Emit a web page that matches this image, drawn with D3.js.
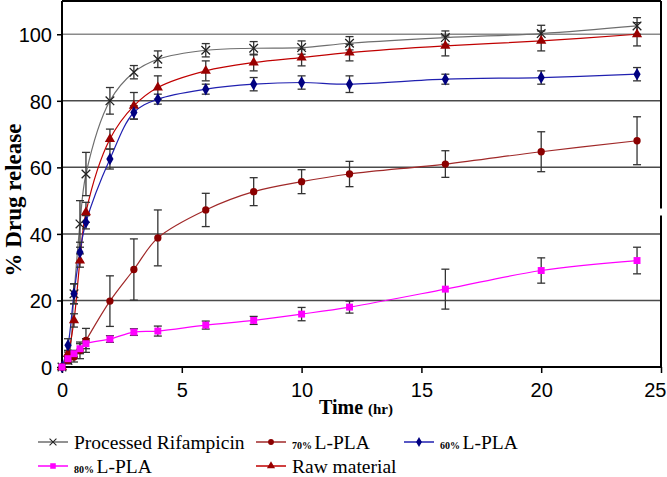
<!DOCTYPE html>
<html>
<head>
<meta charset="utf-8">
<script src="https://cdn.jsdelivr.net/npm/d3@7"></script>
<style>
  html, body { margin: 0; padding: 0; background: #fff; }
  svg { display: block; }
  .tick text { font-family: "Liberation Sans", Arial, sans-serif; font-size: 20px; fill: #000; }
  .lg-text, .lg-text tspan { font-family: "Liberation Serif", "DejaVu Serif", serif; }
</style>
</head>
<body>
<div id="chart"></div>
<script>
// sampling times (hr)
const times = [0, 0.25, 0.5, 0.75, 1, 2, 3, 4, 6, 8, 10, 12, 16, 20, 24];

// % drug release per formulation, with +/- error
const processed    = [0, 2, 22, 43, 58, 80, 88.6, 92.5, 95.2, 95.8, 96, 97.3, 99, 100.2, 102.5];
const processedErr = [0, 1, 3, 7, 6.5, 4, 2, 2.5, 2, 2, 2, 2, 2, 2.5, 2.5];
const pla70        = [0, 2, 3, 5, 8, 19.8, 29.3, 38.8, 47.2, 52.7, 55.7, 58, 61, 64.7, 68];
const pla70Err     = [0, 1, 1.5, 2.5, 3.6, 7.6, 9.2, 8.4, 5, 4.2, 3.6, 3.8, 4, 6, 7.2];
const pla60        = [0, 6.5, 22, 34.5, 43.5, 62.5, 76.5, 80.5, 83.5, 85, 85.5, 85, 86.5, 87, 88];
const pla60Err     = [0, 2, 3, 3, 2, 3, 2, 1.5, 1.5, 2, 2, 2.5, 1.5, 2, 2];
const pla80        = [0, 2.5, 4, 5.5, 7, 8.4, 10.5, 10.8, 12.6, 14, 15.9, 18, 23.4, 29, 32];
const pla80Err     = [0, 1, 1, 1.5, 1.5, 1, 1, 1.5, 1.2, 1.2, 2, 1.8, 6, 3.8, 4];
const rawMaterial  = [0, 4, 14, 32, 46.5, 68.5, 78.5, 84, 89, 91.5, 93, 94.5, 96.5, 98, 100];
const rawErr       = [0, 1, 2, 2, 3, 3, 4, 3.5, 3, 2.5, 2.5, 2.5, 3, 3, 3.5];

const xTicks = [0, 5, 10, 15, 20, 25];
const yTicks = [0, 20, 40, 60, 80, 100];

const SERIF = '"Liberation Serif", "DejaVu Serif", serif';

const series = [
  { name: "Processed Rifampicin", values: processed, err: processedErr, line: "#6e6e6e", fill: "#222", shape: "cross" },
  { name: "Raw material", values: rawMaterial, err: rawErr, line: "#c00000", fill: "#990000", shape: "triangle" },
  { name: "60% L-PLA", values: pla60, err: pla60Err, line: "#2020b0", fill: "#000080", shape: "diamond" },
  { name: "70% L-PLA", values: pla70, err: pla70Err, line: "#a02828", fill: "#8b0000", shape: "circle" },
  { name: "80% L-PLA", values: pla80, err: pla80Err, line: "#ff00ff", fill: "#ff00ff", shape: "square" }
];

const W = 667, H = 477;
const margin = { top: 1, right: 6, bottom: 110, left: 62 };
const iw = W - margin.left - margin.right;
const ih = H - margin.top - margin.bottom;

const svg = d3.select('#chart').append('svg')
  .attr('width', W).attr('height', H);

const g = svg.append('g').attr('transform', `translate(${margin.left},${margin.top})`);

const x = d3.scaleLinear().domain([0, 25]).range([0, iw]);
const y = d3.scaleLinear().domain([0, 110]).range([ih, 0]);

// horizontal grid lines
g.selectAll('.grid').data(yTicks.filter(v => v > 0)).enter()
  .append('line')
  .attr('x1', 0).attr('x2', iw)
  .attr('y1', d => y(d)).attr('y2', d => y(d))
  .attr('stroke', d => d === 100 ? '#8a8a8a' : '#4a4a4a')
  .attr('stroke-width', 1.5);

// axes
const xAxis = g.append('g').attr('transform', `translate(0,${ih})`)
  .call(d3.axisBottom(x).tickValues(xTicks).tickSize(6).tickPadding(10));
const yAxis = g.append('g')
  .call(d3.axisLeft(y).tickValues(yTicks).tickSize(5).tickPadding(5));
[xAxis, yAxis].forEach(a => {
  a.select('.domain').remove();
  a.selectAll('.tick line').attr('stroke', '#000').attr('stroke-width', 1.5);
});
yAxis.selectAll('.tick text').attr('dy', '0.36em');
// last label sits on the page edge, pull it in a little
xAxis.selectAll('.tick text').filter(d => d === 25).attr('text-anchor', 'end').attr('x', 5);

// frame (right side has a small break like the original)
const frame = g.append('g').attr('stroke', '#000').attr('stroke-width', 2).attr('fill', 'none');
frame.append('line').attr('x1', 0).attr('x2', 0).attr('y1', 0).attr('y2', ih);
frame.append('line').attr('x1', 0).attr('x2', iw).attr('y1', ih).attr('y2', ih);
frame.append('line').attr('x1', 0).attr('x2', iw).attr('y1', 0).attr('y2', 0);
frame.append('line').attr('x1', iw).attr('x2', iw).attr('y1', 0).attr('y2', y(47.6));
frame.append('line').attr('x1', iw).attr('x2', iw).attr('y1', y(45.5)).attr('y2', ih);

const line = d3.line()
  .x(d => x(d.t)).y(d => y(d.v))
  .curve(d3.curveCatmullRom.alpha(0.5));

function symbolPath(shape, size) {
  const types = {
    cross: d3.symbolX, triangle: d3.symbolTriangle, diamond: d3.symbolDiamond,
    circle: d3.symbolCircle, square: d3.symbolSquare
  };
  return d3.symbol().type(types[shape]).size(size)();
}
const symSize = { cross: 50, triangle: 45, diamond: 45, circle: 42, square: 48 };

function drawMarker(sel, s) {
  const p = sel.append('path').attr('d', symbolPath(s.shape, symSize[s.shape]));
  if (s.shape === 'cross') p.attr('fill', 'none').attr('stroke', s.fill).attr('stroke-width', 1.3);
  else p.attr('fill', s.fill);
  return p;
}

// lines first, then error bars, then markers
series.forEach(s => {
  const pts = times.map((t, i) => ({ t, v: s.values[i], e: s.err[i] }));
  g.append('path').datum(pts)
    .attr('d', line)
    .attr('fill', 'none')
    .attr('stroke', s.line)
    .attr('stroke-width', 1.2);
});

series.forEach(s => {
  const pts = times.map((t, i) => ({ t, v: s.values[i], e: s.err[i] })).filter(d => d.e > 0);
  const eb = g.append('g').attr('stroke', '#333').attr('stroke-width', 1.3);
  pts.forEach(d => {
    const cx = x(d.t);
    eb.append('line').attr('x1', cx).attr('x2', cx).attr('y1', y(d.v - d.e)).attr('y2', y(d.v + d.e));
    eb.append('line').attr('x1', cx - 4).attr('x2', cx + 4).attr('y1', y(d.v - d.e)).attr('y2', y(d.v - d.e));
    eb.append('line').attr('x1', cx - 4).attr('x2', cx + 4).attr('y1', y(d.v + d.e)).attr('y2', y(d.v + d.e));
  });
});

series.forEach(s => {
  times.forEach((t, i) => {
    const m = g.append('g').attr('transform', `translate(${x(t)},${y(s.values[i])})`);
    drawMarker(m, s);
  });
});

// axis titles
svg.append('text')
  .attr('font-family', SERIF)
  .attr('transform', 'translate(21,200) rotate(-90)')
  .attr('text-anchor', 'middle')
  .attr('font-size', 23).attr('font-weight', 'bold')
  .text('% Drug release');

const xt = svg.append('text')
  .attr('font-family', SERIF)
  .attr('x', 356).attr('y', 414)
  .attr('text-anchor', 'middle')
  .attr('font-weight', 'bold');
xt.append('tspan').attr('font-size', 20).text('Time ');
xt.append('tspan').attr('font-size', 15).text('(hr)');

// legend
const legendItems = [
  { s: series[0], x: 38, y: 442, pct: null, label: "Processed Rifampicin" },
  { s: series[3], x: 256, y: 442, pct: "70%", label: "L-PLA" },
  { s: series[2], x: 404, y: 442, pct: "60%", label: "L-PLA" },
  { s: series[4], x: 38, y: 466, pct: "80%", label: "L-PLA" },
  { s: series[1], x: 256, y: 466, pct: null, label: "Raw material" }
];

legendItems.forEach(it => {
  const lg = svg.append('g').attr('transform', `translate(${it.x},${it.y})`);
  lg.append('line').attr('x1', 0).attr('x2', 30).attr('y1', 0).attr('y2', 0)
    .attr('stroke', it.s.line).attr('stroke-width', 1.5);
  const mk = lg.append('g').attr('transform', 'translate(15,0)');
  drawMarker(mk, it.s).attr('transform', 'scale(0.8)');
  const t = lg.append('text').attr('class', 'lg-text').attr('x', 36).attr('y', 7);
  if (it.pct) {
    t.append('tspan').attr('font-size', 10).attr('font-weight', 'bold').text(it.pct + ' ');
  }
  t.append('tspan').attr('font-size', 19.5).text(it.label);
});
</script>
</body>
</html>
